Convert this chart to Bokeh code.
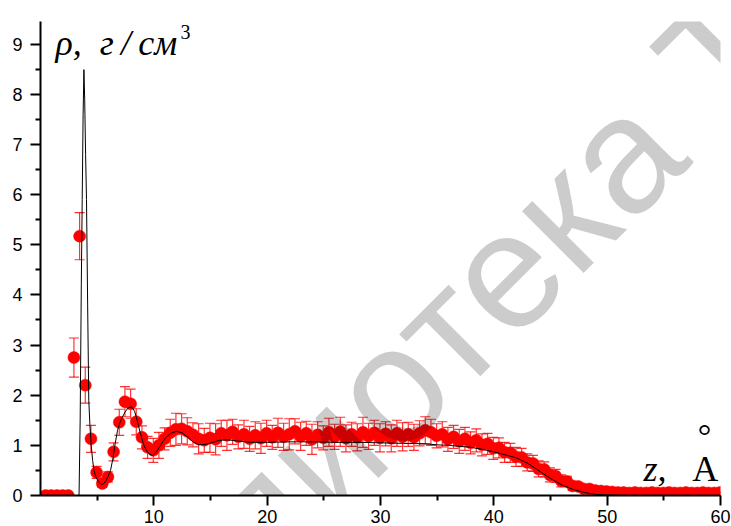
from bokeh.plotting import figure
from bokeh.models import (Range1d, FixedTicker, ColumnDataSource, Whisker, TeeHead, Label)
from bokeh.embed import file_html
from bokeh.resources import INLINE

# ---------------- data ----------------
# sampled density points (red, with error bars), z in Angstrom
z_pts = [round(0.45 + 0.5 * i, 2) for i in range(120)]
rho_pts = [
    0, 0, 0, 0, 0,
    2.75, 5.17, 2.20, 1.13, 0.46, 0.24, 0.37, 0.87, 1.46, 1.87,
    1.83, 1.47, 1.16, 0.96, 0.90, 1.00, 1.13, 1.25, 1.32, 1.33,
    1.28, 1.21, 1.13, 1.10, 1.15, 1.12, 1.24, 1.20, 1.27, 1.17,
    1.22, 1.13, 1.20, 1.14, 1.24, 1.16, 1.25, 1.17, 1.22, 1.28,
    1.18, 1.24, 1.12, 1.21, 1.15, 1.26, 1.17, 1.27, 1.14, 1.22,
    1.16, 1.26, 1.18, 1.25, 1.15, 1.23, 1.14, 1.24, 1.17, 1.22,
    1.16, 1.24, 1.30, 1.26, 1.19, 1.22, 1.12, 1.17, 1.08, 1.13,
    1.05, 1.10, 1.01, 1.03, 0.94, 0.95, 0.86, 0.85, 0.77, 0.76,
    0.66, 0.64, 0.53, 0.52, 0.41, 0.39, 0.29, 0.28, 0.19, 0.18,
    0.13, 0.13, 0.10, 0.09, 0.08, 0.07, 0.06, 0.06, 0.05, 0.06,
    0.05, 0.05, 0.06, 0.05, 0.05, 0.06, 0.05, 0.05, 0.06, 0.05,
    0.05, 0.06, 0.05, 0.05, 0.06,
]
err_pts = [
    0, 0, 0, 0, 0,
    0.39, 0.47, 0.36, 0.27, 0.12, 0.08, 0.10, 0.18, 0.26, 0.30,
    0.29, 0.26, 0.23, 0.22, 0.24, 0.26, 0.22, 0.27, 0.32, 0.30,
    0.27, 0.24, 0.30, 0.24, 0.29, 0.31, 0.26, 0.30, 0.25, 0.24,
    0.28, 0.25, 0.27, 0.30, 0.26, 0.24, 0.29, 0.27, 0.31, 0.25,
    0.28, 0.24, 0.30, 0.26, 0.24, 0.28, 0.25, 0.29, 0.27, 0.24,
    0.27, 0.30, 0.26, 0.25, 0.28, 0.24, 0.27, 0.26, 0.28, 0.24,
    0.26, 0.25, 0.27, 0.26, 0.24, 0.25, 0.24, 0.23, 0.24, 0.23,
    0.22, 0.23, 0.22, 0.21, 0.22, 0.20, 0.20, 0.19, 0.19, 0.18,
    0.17, 0.16, 0.16, 0.15, 0.14, 0.13, 0.12, 0.10, 0.09, 0.07,
    0.06, 0.05, 0.04, 0.03, 0.02, 0, 0, 0, 0, 0,
    0, 0, 0, 0, 0, 0, 0, 0, 0, 0,
    0, 0, 0, 0, 0,
]

# simulated profile (black line)
z_line = [0, 3.40, 3.50, 3.60, 3.68, 3.76, 3.83, 3.90, 3.98, 4.06, 4.16, 4.26,
          4.36, 4.47, 4.60, 4.72, 4.90, 5.10, 5.30, 5.44, 5.60, 5.80, 6.00, 6.18,
          6.40, 6.56, 6.80, 7.00, 7.20, 7.45, 7.70, 8.03, 8.30, 8.53, 8.80, 9.12,
          9.40, 9.65, 9.90, 10.20, 10.60, 11.00, 11.50, 12.00, 12.50, 13.00, 13.50,
          14.00, 14.60, 15.20, 15.80, 16.50, 17.30, 18.50, 20.0, 22.0, 24.0, 26.0,
          28.0, 30.0, 32.0, 34.0, 35.0, 36.0, 37.0, 38.0, 39.0, 40.0, 41.0, 42.0,
          43.0, 44.0, 45.0, 46.0, 47.0, 48.0, 49.0, 50.0, 52.0, 60.0]
rho_line = [0, 0, 1.5, 4.2, 5.9, 7.6, 8.49, 7.9, 6.8, 5.9, 3.8, 1.9,
            1.4, 1.0, 0.7, 0.5, 0.36, 0.28, 0.23, 0.22, 0.24, 0.30, 0.40, 0.50,
            0.75, 1.0, 1.3, 1.45, 1.55, 1.66, 1.74, 1.77, 1.68, 1.50, 1.25, 1.0,
            0.88, 0.82, 0.80, 0.86, 1.0, 1.14, 1.24, 1.28, 1.25, 1.16, 1.06,
            1.01, 1.02, 1.06, 1.10, 1.11, 1.09, 1.06, 1.06, 1.07, 1.07, 1.06,
            1.06, 1.05, 1.04, 1.03, 1.01, 1.00, 0.98, 0.96, 0.92, 0.87, 0.81, 0.75,
            0.64, 0.49, 0.34, 0.21, 0.12, 0.06, 0.02, 0.01, 0, 0]

x_ticks = [10, 20, 30, 40, 50, 60]
x_minor = [5, 15, 25, 35, 45, 55]
y_ticks = [0, 1, 2, 3, 4, 5, 6, 7, 8, 9]
y_minor = [0.5, 1.5, 2.5, 3.5, 4.5, 5.5, 6.5, 7.5, 8.5]

# ---------------- figure ----------------
p = figure(width=731, height=526, x_range=Range1d(0, 60), y_range=Range1d(0, 9.45),
           output_backend="svg", toolbar_location=None,
           min_border_left=40, min_border_right=11, min_border_top=21, min_border_bottom=31)
p.outline_line_color = None
p.xgrid.visible = False
p.ygrid.visible = False
p.background_fill_color = "white"
p.border_fill_color = "white"

for ax in (p.xaxis[0], p.yaxis[0]):
    ax.axis_line_width = 2
    ax.axis_line_color = "black"
    ax.major_tick_line_width = 2
    ax.minor_tick_line_width = 2
    ax.major_tick_in = 0
    ax.minor_tick_in = 0
    ax.major_label_text_font = "Liberation Sans"
    ax.major_label_text_font_size = "18px"
    ax.major_label_text_color = "black"

p.xaxis.ticker = FixedTicker(ticks=x_ticks, minor_ticks=x_minor)
p.yaxis.ticker = FixedTicker(ticks=y_ticks, minor_ticks=y_minor)
p.xaxis.major_tick_out = 10
p.xaxis.minor_tick_out = 5
p.xaxis.major_label_standoff = 4
p.yaxis.major_tick_out = 10
p.yaxis.minor_tick_out = 5
p.yaxis.major_label_standoff = 8

src = ColumnDataSource(dict(
    z=z_pts, rho=rho_pts,
    lo=[r - e for r, e in zip(rho_pts, err_pts)],
    hi=[r + e for r, e in zip(rho_pts, err_pts)],
))

wh = Whisker(source=src, base="z", lower="lo", upper="hi", level="underlay",
             line_color="red", line_alpha=0.8, line_width=1.2,
             upper_head=TeeHead(size=10, line_color="red", line_alpha=0.8, line_width=1.2),
             lower_head=TeeHead(size=10, line_color="red", line_alpha=0.8, line_width=1.2))
p.add_layout(wh)

p.scatter("z", "rho", source=src, size=12, fill_color="red", line_color="red",
          line_width=0.5)
p.line(z_line, rho_line, line_color="black", line_width=1)

# axis titles
p.add_layout(Label(x=1.32, y=9.02, text="ρ,\u00a0 г\u2009/\u2009см", text_font="Liberation Serif",
                   text_font_style="italic", text_font_size="36px", text_color="black",
                   text_baseline="alphabetic"))
p.add_layout(Label(x=12.35, y=9.25, text="3", text_font="Liberation Serif",
                   text_font_size="20px", text_color="black", text_baseline="alphabetic"))
p.add_layout(Label(x=53.2, y=0.52, text="z,", text_font="Liberation Serif",
                   text_font_style="italic", text_font_size="36px", text_color="black",
                   text_baseline="alphabetic"))
p.add_layout(Label(x=57.5, y=0.52, text="A", text_font="Liberation Serif",
                   text_font_size="36px", text_color="black", text_baseline="alphabetic"))
p.add_layout(Label(x=58.6, y=1.2, text="°", text_font="Liberation Serif",
                   text_align="center", text_font_size="34px", text_color="black",
                   text_baseline="alphabetic"))

# watermark
p.add_layout(Label(x=-1.85, y=-5.20, text="Библиотека Т", angle=45, angle_units="deg",
                   text_font="Liberation Sans", text_font_size="165px",
                   text_color="black", text_alpha=0.2, level="overlay",
                   text_baseline="alphabetic"))

open("out.html", "w").write(file_html(p, INLINE))
